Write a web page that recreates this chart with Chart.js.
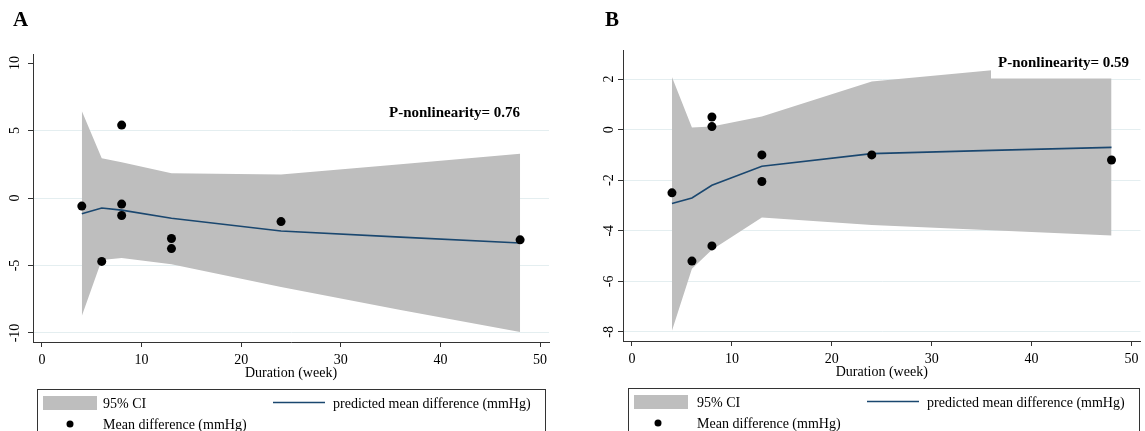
<!DOCTYPE html>
<html><head><meta charset="utf-8">
<script src="https://cdn.jsdelivr.net/npm/chart.js@4.4.1/dist/chart.umd.min.js"></script>
<style>
html,body{margin:0;padding:0;background:#fff;width:1145px;height:431px;overflow:hidden}
#ca{position:absolute;left:0;top:0}
#cb{position:absolute;left:572px;top:0}
</style></head><body>
<canvas id="ca" width="572" height="431"></canvas>
<canvas id="cb" width="573" height="431"></canvas>
<script>
// ---- data ----
const knotWeeks = [4, 6, 8, 13, 24, 36, 48];
const predA  = [-1.17, -0.74, -0.9, -1.5, -2.45, -2.9, -3.33];
const ciLowA = [-8.74, -4.6, -4.45, -4.9, -6.6, -8.3, -9.93];
const ciUpA  = [6.45, 2.95, 2.65, 1.83, 1.75, 2.5, 3.27];
const predB  = [-2.92, -2.7, -2.2, -1.45, -0.95, -0.82, -0.7];
const ciLowB = [-7.95, -5.5, -4.75, -3.48, -3.77, -3.98, -4.19];
const ciUpB  = [2.08, 0.08, 0.12, 0.52, 1.9, 2.35, 2.8];
const studyWeeksA = [4, 6, 8, 8, 8, 13, 13, 24, 48];
const meanDiffA   = [-0.6, -4.7, 5.4, -0.45, -1.3, -3.0, -3.75, -1.75, -3.1];
const studyWeeksB = [4, 6, 8, 8, 8, 13, 13, 24, 48];
const meanDiffB   = [-2.5, -5.2, 0.5, 0.12, -4.6, -1.0, -2.05, -1.0, -1.2];
const xTicks  = [0, 10, 20, 30, 40, 50];
const yTicksA = [-10, -5, 0, 5, 10];
const yTicksB = [-8, -6, -4, -2, 0, 2];
const pTextA = 'P-nonlinearity= 0.76';
const pTextB = 'P-nonlinearity= 0.59';
const xTitle = 'Duration (week)';
const legendLabels = ['95% CI', 'predicted mean difference (mmHg)', 'Mean difference (mmHg)'];

// ---- styling ----
const SERIF = '"Liberation Serif", "Times New Roman", serif';
const CI_COLOR = '#bebebe';
const LINE_COLOR = '#1a476f';
const AXIS_COLOR = '#333333';
const GRID_COLOR = '#e4eef0';

const xy = (xs, ys) => xs.map((x, i) => ({x: x, y: ys[i]}));

const decorPlugin = {
  id: 'panelDecor',
  afterDatasetsDraw(chart, args, o) {
    const ctx = chart.ctx;
    ctx.save();
    if (o.pBox) { ctx.fillStyle = '#fff'; ctx.fillRect(o.pBox[0], o.pBox[1], o.pBox[2], o.pBox[3]); }
    ctx.font = 'bold 15px ' + SERIF;
    ctx.fillStyle = '#000';
    ctx.textAlign = 'left';
    ctx.textBaseline = 'middle';
    ctx.fillText(o.pText, o.pX, o.pY);
    ctx.restore();
  },
  afterDraw(chart, args, o) {
    const ctx = chart.ctx;
    ctx.save();
    // panel letter
    ctx.font = 'bold 21px ' + SERIF;
    ctx.fillStyle = '#000';
    ctx.textAlign = 'left';
    ctx.textBaseline = 'middle';
    ctx.fillText(o.letter, o.letterX, 21);
    // legend box
    const L = o.legX, T = o.legY;
    ctx.strokeStyle = AXIS_COLOR;
    ctx.lineWidth = 1;
    ctx.strokeRect(L + 0.5, T + 0.5, o.legW, 60);
    ctx.fillStyle = CI_COLOR;
    ctx.fillRect(L + 6, T + 7, 54, 14);
    ctx.strokeStyle = LINE_COLOR;
    ctx.lineWidth = 1.6;
    ctx.beginPath();
    ctx.moveTo(L + o.lineX0, T + 13.5);
    ctx.lineTo(L + o.lineX0 + 52, T + 13.5);
    ctx.stroke();
    ctx.fillStyle = '#000';
    ctx.beginPath();
    ctx.arc(L + o.dotX, T + 35, 3.5, 0, Math.PI * 2);
    ctx.fill();
    ctx.font = '14px ' + SERIF;
    ctx.textBaseline = 'middle';
    ctx.fillText(legendLabels[0], L + o.txt1X, T + 15);
    ctx.fillText(legendLabels[1], L + o.lineX0 + 60, T + 15);
    ctx.fillText(legendLabels[2], L + o.txt1X, T + 36);
    ctx.restore();
  }
};

function makeChart(id, c) {
  const font = {family: SERIF, size: 14};
  return new Chart(document.getElementById(id), {
    type: 'line',
    data: {
      datasets: [
        {label: legendLabels[2], data: xy(c.sx, c.sy), showLine: false,
         pointRadius: 4.5, pointBackgroundColor: '#000', pointBorderColor: '#000', pointBorderWidth: 0},
        {label: legendLabels[1], data: xy(knotWeeks, c.pred), borderColor: LINE_COLOR, borderWidth: 1.6,
         pointRadius: 0, tension: 0, fill: false},
        {label: '95% CI lower', data: xy(knotWeeks, c.lo), borderColor: 'rgba(0,0,0,0)', borderWidth: 1,
         pointRadius: 0, tension: 0, fill: false},
        {label: legendLabels[0], data: xy(knotWeeks, c.hi), borderColor: 'rgba(0,0,0,0)', borderWidth: 1,
         backgroundColor: CI_COLOR, pointRadius: 0, tension: 0, fill: '-1'}
      ]
    },
    options: {
      responsive: false, animation: false, events: [],
      layout: {padding: c.padding},
      plugins: {legend: {display: false}, tooltip: {enabled: false}, panelDecor: c.decor},
      scales: {
        x: {
          type: 'linear', min: -0.9, max: 50.9,
          afterBuildTicks: s => { s.ticks = xTicks.map(v => ({value: v})); },
          afterFit: s => { s.height = 40; },
          grid: {drawOnChartArea: false, drawTicks: true, tickLength: 5, tickColor: AXIS_COLOR, tickWidth: 1},
          border: {color: AXIS_COLOR, width: 1},
          ticks: {font: font, color: '#000', padding: 5, maxRotation: 0, autoSkip: false},
          title: {display: true, text: xTitle, font: font, color: '#000', padding: {top: 0, bottom: 0}}
        },
        y: {
          type: 'linear', min: c.ymin, max: c.ymax,
          afterBuildTicks: s => { s.ticks = c.yTicks.map(v => ({value: v})); },
          afterFit: s => { s.width = 33; },
          grid: {drawOnChartArea: true, tickLength: 5, tickWidth: 1, tickColor: AXIS_COLOR, lineWidth: 1,
                 color: ctx => (ctx.tick && ctx.tick.value === c.noGrid) ? 'rgba(0,0,0,0)' : GRID_COLOR},
          border: {color: AXIS_COLOR, width: 1},
          ticks: {font: font, color: '#000', padding: 3, minRotation: 90, maxRotation: 90,
                  crossAlign: 'center', autoSkip: false}
        }
      }
    },
    plugins: [decorPlugin]
  });
}

makeChart('ca', {
  sx: studyWeeksA, sy: meanDiffA, pred: predA, lo: ciLowA, hi: ciUpA,
  ymin: -10.67, ymax: 10.67, yTicks: yTicksA, noGrid: 10,
  padding: {left: 0, top: 54, right: 23, bottom: 49},
  decor: {letter: 'A', letterX: 13, pText: pTextA, pX: 389, pY: 113, pBox: null,
          legX: 37, legY: 389, legW: 508, lineX0: 236, dotX: 33, txt1X: 66}
});
makeChart('cb', {
  sx: studyWeeksB, sy: meanDiffB, pred: predB, lo: ciLowB, hi: ciUpB,
  ymin: -8.36, ymax: 3.15, yTicks: yTicksB, noGrid: null,
  padding: {left: 18, top: 50, right: 0, bottom: 50},
  decor: {letter: 'B', letterX: 33, pText: pTextB, pX: 426, pY: 63, pBox: [419, 48, 150, 30.5],
          legX: 56, legY: 388, legW: 511, lineX0: 239, dotX: 30, txt1X: 69}
});
</script>
</body></html>
